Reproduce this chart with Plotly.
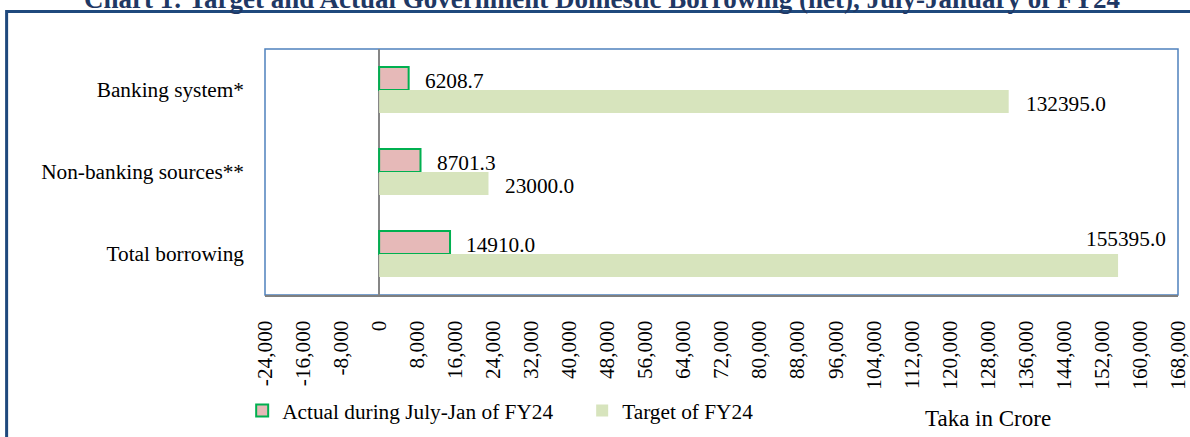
import plotly.graph_objects as go

categories = ["Banking system*", "Non-banking sources**", "Total borrowing"]
actual = [6208.7, 8701.3, 14910.0]
target = [132395.0, 23000.0, 155395.0]
actual_name = "Actual during July-Jan of FY24"
target_name = "Target of FY24"
tick_vals = list(range(-24000, 168001, 8000))
tick_text = [f"{v:,}" for v in tick_vals]
title_text = "Chart 1: Target and Actual Government Domestic Borrowing (net), July-January of FY24"
unit_text = "Taka in Crore"

FONT = "Liberation Serif, Times New Roman, serif"
FS = 21.3

fig = go.Figure()
fig.add_trace(go.Bar(
    y=categories, x=actual, orientation="h", name=actual_name,
    marker=dict(color="#E6B9B8", line=dict(color="#00B050", width=2)),
))
fig.add_trace(go.Bar(
    y=categories, x=target, orientation="h", name=target_name,
    marker=dict(color="#D7E4BD", line=dict(width=0)),
))

# data labels
for i, (cat, a, t) in enumerate(zip(categories, actual, target)):
    fig.add_annotation(x=a, y=cat, xref="x", yref="y", text=f"{a:.1f}",
                       showarrow=False, xanchor="left", xshift=14, yshift=9,
                       font=dict(family=FONT, size=FS, color="black"))
    if i == len(categories) - 1:
        fig.add_annotation(x=t, y=cat, xref="x", yref="y", text=f"{t:.1f}",
                           showarrow=False, xanchor="center", xshift=8, yshift=15,
                           font=dict(family=FONT, size=FS, color="black"))
    else:
        fig.add_annotation(x=t, y=cat, xref="x", yref="y", text=f"{t:.1f}",
                           showarrow=False, xanchor="left", xshift=15, yshift=-14,
                           font=dict(family=FONT, size=FS, color="black"))

fig.add_annotation(text=title_text, xref="paper", yref="paper", x=0.369, y=1.205,
                   xanchor="center", yanchor="middle", showarrow=False,
                   font=dict(family=FONT, size=27, color="#1F3864", weight="bold"))
fig.add_annotation(text=unit_text, xref="paper", yref="paper", x=0.792, y=-0.50,
                   xanchor="center", yanchor="middle", showarrow=False,
                   font=dict(family=FONT, size=23, color="black"))

# outer frame
fig.add_shape(type="rect", xref="paper", yref="paper", x0=-0.283, x1=1.05,
              y0=-0.7, y1=1.152, line=dict(color="#1F497D", width=3),
              fillcolor="rgba(0,0,0,0)", layer="below")
# plot area border
fig.add_shape(type="rect", xref="paper", yref="paper", x0=0, x1=1, y0=0, y1=1,
              line=dict(color="#4F81BD", width=1.5), layer="below")

fig.update_layout(
    width=1190, height=437,
    margin=dict(l=265, r=12, t=49, b=142, autoexpand=False),
    paper_bgcolor="white", plot_bgcolor="white",
    barmode="group", bargap=0.44, bargroupgap=0,
    font=dict(family=FONT, size=FS, color="black"),
    showlegend=True,
    legend=dict(orientation="h", x=-0.025, y=-0.47, xanchor="left", yanchor="middle",
                bgcolor="rgba(0,0,0,0)",
                font=dict(family=FONT, size=FS), entrywidth=295, entrywidthmode="pixels",
                traceorder="normal"),
)
fig.update_xaxes(range=[-24000, 168000], tickvals=tick_vals, ticktext=tick_text,
                 tickangle=-90, showgrid=False, zeroline=True, zerolinecolor="#868686",
                 zerolinewidth=2, showline=True, linecolor="#7F7F7F", linewidth=2,
                 ticks="outside", ticklen=15,
                 tickcolor="rgba(0,0,0,0)", tickfont=dict(family=FONT, size=FS),
                 automargin=False)
fig.update_yaxes(autorange="reversed", showgrid=False, showline=False, ticks="",
                 ticklabelstandoff=20, tickfont=dict(family=FONT, size=FS), automargin=False)

fig.write_html("out.html", config={"displayModeBar": False},
               post_script="document.body.style.margin='0';")
